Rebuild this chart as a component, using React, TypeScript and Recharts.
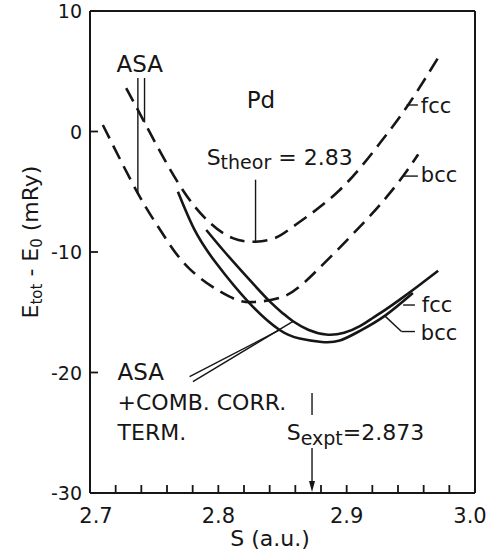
import React from 'react';
import {
  ComposedChart,
  Line,
  XAxis,
  YAxis,
  ReferenceLine,
  ReferenceDot,
  Label,
} from 'recharts';

type Pt = [number, number];

// Total energy E_tot - E_0 (mRy) against Wigner–Seitz radius S (a.u.) for Pd.
// Plain ASA results (dashed)
const asaFcc: Pt[] = [
  [2.7282, 3.6], [2.7425, 0.75], [2.7698, -4.45], [2.7932, -7.55], [2.8112, -8.85],
  [2.829, -9.15], [2.845, -8.8], [2.8608, -7.7], [2.8946, -4.85], [2.9258, -0.98],
  [2.9479, 2.2], [2.9726, 6.35],
];
const asaBcc: Pt[] = [
  [2.71, 0.54], [2.7373, -5.13], [2.7555, -8.3], [2.7776, -11.4], [2.8088, -13.71],
  [2.8283, -14.15], [2.8504, -13.71], [2.8738, -11.85], [2.9128, -7.62], [2.931, -5.45],
  [2.944, -3.7], [2.9557, -1.9],
];
// ASA + combined correction term (solid)
const combFcc: Pt[] = [
  [2.7906, -8.17], [2.805, -10.0], [2.8244, -12.32], [2.84, -14.1], [2.8504, -15.1],
  [2.8582, -15.75], [2.87, -16.45], [2.884, -16.85], [2.898, -16.7], [2.9103, -16.15],
  [2.92, -15.5], [2.93, -14.8], [2.9414, -13.95], [2.956, -12.8], [2.9713, -11.55],
];
const combBcc: Pt[] = [
  [2.7685, -5.0], [2.7815, -8.17], [2.7984, -10.94], [2.8244, -14.26], [2.8478, -16.47],
  [2.8634, -17.18], [2.8806, -17.47], [2.8946, -17.35], [2.9103, -16.55], [2.9297, -15.3],
  [2.9516, -13.4],
];

const sTicks = [
  2.7, 2.72, 2.74, 2.76, 2.78, 2.8, 2.82, 2.84, 2.86, 2.88, 2.9, 2.92, 2.94, 2.96, 2.98, 3.0,
];
const eTicks = [-30, -20, -10, 0, 10];

const sTheor = 2.83;
const sExpt = 2.873;

const toRows = (pts: Pt[]) => pts.map(([s, e]) => ({ s, e }));

const FONT = '"DejaVu Sans", sans-serif';
const INK = '#161616';

const isMajor = (v: number) => Math.abs(v * 10 - Math.round(v * 10)) < 1e-6;

const XTick = (props: any) => {
  const v = props.payload.value as number;
  if (!isMajor(v)) return <g />;
  const shift = v <= 2.7001 ? 6 : v >= 2.9999 ? -5 : 0;
  return (
    <text x={props.x + shift} y={props.y + 30} textAnchor="middle" fontFamily={FONT} fontSize={21} fill={INK}>
      {v.toFixed(1)}
    </text>
  );
};

const YTick = (props: any) => {
  const v = props.payload.value as number;
  return (
    <text x={props.x - 8} y={props.y + 7} textAnchor="end" fontFamily={FONT} fontSize={19} fill={INK}>
      {v < 0 ? `-${Math.abs(v)}` : `${v}`}
    </text>
  );
};

const XTitle = (props: any) => {
  const vb = props.viewBox;
  return (
    <text x={vb.x + 180} y={vb.y + 53} textAnchor="middle" fontFamily={FONT} fontSize={22} fill={INK}>
      S (a.u.)
    </text>
  );
};

const YTitle = (props: any) => {
  const vb = props.viewBox;
  const cx = vb.x + 8;
  const cy = vb.y + 231;
  return (
    <text
      x={cx}
      y={cy}
      transform={`rotate(-90, ${cx}, ${cy})`}
      textAnchor="middle"
      fontFamily={FONT}
      fontSize={22}
      fill={INK}
    >
      <tspan>E</tspan>
      <tspan fontSize={15} dy={4}>tot</tspan>
      <tspan dy={-4}> - E</tspan>
      <tspan fontSize={15} dy={4}>0</tspan>
      <tspan dy={-4}> (mRy)</tspan>
    </text>
  );
};

const note = (key: string, s: number, e: number, body: React.ReactNode, size = 22) => (
  <ReferenceDot
    key={key}
    x={s}
    y={e}
    r={0}
    ifOverflow="visible"
    shape={(p: any) => (
      <text x={p.cx} y={p.cy} fontFamily={FONT} fontSize={size} fill={INK}>
        {body}
      </text>
    )}
  />
);

const seg = (key: string, a: Pt, b: Pt, w = 1.4) => (
  <ReferenceLine
    key={key}
    segment={[{ x: a[0], y: a[1] }, { x: b[0], y: b[1] }]}
    stroke={INK}
    strokeWidth={w}
  />
);

export default function App() {
  return (
    <div style={{ position: 'absolute', left: 0, top: 0, background: '#fff' }}>
      <ComposedChart
        width={492}
        height={554}
        margin={{ top: 11, right: 17, bottom: 31, left: 30 }}
      >
        <XAxis
          type="number"
          dataKey="s"
          domain={[2.7, 3.0]}
          ticks={sTicks}
          interval={0}
          allowDataOverflow
          height={30}
          tickSize={-8}
          tickMargin={8}
          tick={XTick}
          axisLine={{ stroke: INK, strokeWidth: 2 }}
          tickLine={{ stroke: INK, strokeWidth: 1.8 }}
        >
          <Label content={XTitle} />
        </XAxis>
        <YAxis
          type="number"
          dataKey="e"
          domain={[-30, 10]}
          ticks={eTicks}
          interval={0}
          allowDataOverflow
          width={60}
          tickSize={-8}
          tickMargin={8}
          tick={YTick}
          axisLine={{ stroke: INK, strokeWidth: 2 }}
          tickLine={{ stroke: INK, strokeWidth: 1.8 }}
        >
          <Label content={YTitle} />
        </YAxis>

        {/* frame: top and right edges */}
        <ReferenceLine y={10} stroke={INK} strokeWidth={2} />
        <ReferenceLine x={3.0} stroke={INK} strokeWidth={2} />

        <Line data={toRows(asaFcc)} dataKey="e" type="natural" stroke={INK} strokeWidth={2.6}
          strokeDasharray="15 8" dot={false} activeDot={false} isAnimationActive={false} />
        <Line data={toRows(asaBcc)} dataKey="e" type="natural" stroke={INK} strokeWidth={2.6}
          strokeDasharray="15 8" dot={false} activeDot={false} isAnimationActive={false} />
        <Line data={toRows(combFcc)} dataKey="e" type="natural" stroke={INK} strokeWidth={2.6}
          dot={false} activeDot={false} isAnimationActive={false} />
        <Line data={toRows(combBcc)} dataKey="e" type="natural" stroke={INK} strokeWidth={2.6}
          dot={false} activeDot={false} isAnimationActive={false} />

        {/* leaders */}
        {seg('asa1', [2.7373, 4.44], [2.7373, -5.13])}
        {seg('asa2', [2.7425, 4.44], [2.7425, 0.75])}
        {seg('theor', [sTheor - 0.001, -4.0], [sTheor - 0.001, -9.15])}
        {seg('fccA', [2.9467, 2.2], [2.9555, 2.2])}
        {seg('bccA', [2.944, -3.7], [2.9555, -3.7])}
        {seg('fccC', [2.944, -14.4], [2.9532, -14.4])}
        {seg('bccC1', [2.9297, -15.3], [2.9427, -16.6])}
        {seg('bccC2', [2.9427, -16.6], [2.9532, -16.6])}
        {seg('comb1', [2.7776, -20.35], [2.8478, -16.47])}
        {seg('comb2', [2.7802, -20.76], [2.8582, -15.75])}
        {seg('expt1', [sExpt, -21.7], [sExpt, -23.53])}
        {seg('expt2', [sExpt, -26.27], [sExpt, -29.2])}
        <ReferenceDot
          x={sExpt}
          y={-30}
          r={0}
          shape={(p: any) => (
            <path d={`M${p.cx},${p.cy - 1} l-3,-11 l6,0 z`} fill={INK} />
          )}
        />

        {/* labels */}
        {note('asaTop', 2.7207, 4.94, 'ASA', 23)}
        {note('pd', 2.8221, 1.95, 'Pd', 23)}
        {note('theorTxt', 2.7909, -2.78, (
          <>
            <tspan>S</tspan>
            <tspan fontSize={19} dy={4}>theor</tspan>
            <tspan dy={-4}> = {sTheor.toFixed(2)}</tspan>
          </>
        ))}
        {note('fccATxt', 2.9578, 1.54, 'fcc', 21)}
        {note('bccATxt', 2.9578, -4.19, 'bcc', 21)}
        {note('fccCTxt', 2.9586, -14.98, 'fcc', 21)}
        {note('bccCTxt', 2.9578, -17.3, 'bcc', 21)}
        {note('asaBot', 2.7215, -20.62, 'ASA', 23)}
        {note('combTxt', 2.7215, -23.11, '+COMB. CORR.', 22)}
        {note('termTxt', 2.7215, -25.6, 'TERM.', 22)}
        {note('exptTxt', 2.8533, -25.6, (
          <>
            <tspan>S</tspan>
            <tspan fontSize={19} dy={5}>expt</tspan>
            <tspan dy={-5}>={sExpt.toFixed(3)}</tspan>
          </>
        ))}
      </ComposedChart>
    </div>
  );
}
